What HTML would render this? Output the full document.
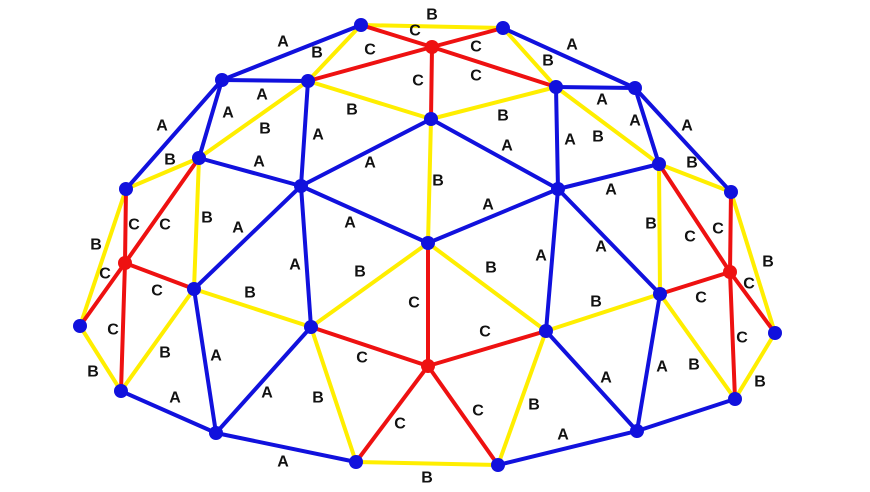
<!DOCTYPE html>
<html><head><style>html,body{margin:0;padding:0;background:#fff}svg{display:block}
text{font-family:"Liberation Sans",sans-serif;font-weight:bold;font-size:16px;fill:#111;text-anchor:middle;dominant-baseline:central}</style></head><body>
<svg width="870" height="492" viewBox="0 0 870 492" xmlns="http://www.w3.org/2000/svg">
<g stroke-width="4" stroke-linecap="round">
<g stroke="#ffee00">
<line x1="361" y1="25" x2="503" y2="28"/><line x1="361" y1="25" x2="308" y2="81"/><line x1="503" y1="28" x2="556" y2="87"/>
<line x1="308" y1="81" x2="431" y2="119"/><line x1="431" y1="119" x2="556" y2="87"/><line x1="308" y1="81" x2="199" y2="158"/>
<line x1="556" y1="87" x2="659" y2="164"/><line x1="431" y1="119" x2="428" y2="243"/><line x1="199" y1="158" x2="126" y2="189"/>
<line x1="199" y1="158" x2="194" y2="289"/><line x1="126" y1="189" x2="80" y2="326"/><line x1="659" y1="164" x2="731" y2="192"/>
<line x1="659" y1="164" x2="660" y2="294"/><line x1="731" y1="192" x2="775" y2="333"/><line x1="428" y1="243" x2="311" y2="327"/>
<line x1="428" y1="243" x2="546" y2="331"/><line x1="194" y1="289" x2="311" y2="327"/><line x1="194" y1="289" x2="121" y2="391"/>
<line x1="80" y1="326" x2="121" y2="391"/><line x1="311" y1="327" x2="356" y2="462"/><line x1="546" y1="331" x2="498" y2="465"/>
<line x1="546" y1="331" x2="660" y2="294"/><line x1="660" y1="294" x2="735" y2="399"/><line x1="775" y1="333" x2="735" y2="399"/>
<line x1="356" y1="462" x2="498" y2="465"/>
</g>
<g stroke="#ee1111">
<line x1="361" y1="25" x2="432" y2="47"/><line x1="503" y1="28" x2="432" y2="47"/><line x1="308" y1="81" x2="432" y2="47"/>
<line x1="556" y1="87" x2="432" y2="47"/><line x1="431" y1="119" x2="432" y2="47"/>
<line x1="126" y1="189" x2="125" y2="263"/><line x1="199" y1="158" x2="125" y2="263"/><line x1="194" y1="289" x2="125" y2="263"/>
<line x1="80" y1="326" x2="125" y2="263"/><line x1="121" y1="391" x2="125" y2="263"/>
<line x1="659" y1="164" x2="730" y2="272"/><line x1="731" y1="192" x2="730" y2="272"/><line x1="660" y1="294" x2="730" y2="272"/>
<line x1="775" y1="333" x2="730" y2="272"/><line x1="735" y1="399" x2="730" y2="272"/>
<line x1="311" y1="327" x2="428" y2="366"/><line x1="546" y1="331" x2="428" y2="366"/><line x1="428" y1="243" x2="428" y2="366"/>
<line x1="356" y1="462" x2="428" y2="366"/><line x1="498" y1="465" x2="428" y2="366"/>
</g>
<g stroke="#1111dd">
<line x1="361" y1="25" x2="222" y2="80"/><line x1="503" y1="28" x2="635" y2="88"/><line x1="222" y1="80" x2="308" y2="81"/>
<line x1="556" y1="87" x2="635" y2="88"/><line x1="222" y1="80" x2="199" y2="158"/><line x1="308" y1="81" x2="301" y2="186"/>
<line x1="431" y1="119" x2="301" y2="186"/><line x1="431" y1="119" x2="558" y2="189"/><line x1="556" y1="87" x2="558" y2="189"/>
<line x1="635" y1="88" x2="659" y2="164"/><line x1="199" y1="158" x2="301" y2="186"/><line x1="659" y1="164" x2="558" y2="189"/>
<line x1="222" y1="80" x2="126" y2="189"/><line x1="635" y1="88" x2="731" y2="192"/><line x1="301" y1="186" x2="428" y2="243"/>
<line x1="558" y1="189" x2="428" y2="243"/><line x1="301" y1="186" x2="194" y2="289"/><line x1="301" y1="186" x2="311" y2="327"/>
<line x1="558" y1="189" x2="546" y2="331"/><line x1="558" y1="189" x2="660" y2="294"/><line x1="194" y1="289" x2="216" y2="433"/>
<line x1="311" y1="327" x2="216" y2="433"/><line x1="546" y1="331" x2="637" y2="431"/><line x1="660" y1="294" x2="637" y2="431"/>
<line x1="121" y1="391" x2="216" y2="433"/><line x1="216" y1="433" x2="356" y2="462"/><line x1="498" y1="465" x2="637" y2="431"/>
<line x1="637" y1="431" x2="735" y2="399"/>
</g>
</g>
<g fill="#1111dd">
<circle cx="361" cy="25" r="7"/><circle cx="503" cy="28" r="7"/><circle cx="222" cy="80" r="7"/><circle cx="308" cy="81" r="7"/>
<circle cx="556" cy="87" r="7"/><circle cx="635" cy="88" r="7"/><circle cx="431" cy="119" r="7"/><circle cx="199" cy="158" r="7"/>
<circle cx="659" cy="164" r="7"/><circle cx="301" cy="186" r="7"/><circle cx="558" cy="189" r="7"/><circle cx="126" cy="189" r="7"/>
<circle cx="731" cy="192" r="7"/><circle cx="428" cy="243" r="7"/><circle cx="194" cy="289" r="7"/><circle cx="660" cy="294" r="7"/>
<circle cx="80" cy="326" r="7"/><circle cx="311" cy="327" r="7"/><circle cx="546" cy="331" r="7"/><circle cx="775" cy="333" r="7"/>
<circle cx="121" cy="391" r="7"/><circle cx="735" cy="399" r="7"/><circle cx="216" cy="433" r="7"/><circle cx="637" cy="431" r="7"/>
<circle cx="356" cy="462" r="7"/><circle cx="498" cy="465" r="7"/>
</g>
<g fill="#ee1111"><circle cx="432" cy="47" r="7"/><circle cx="125" cy="263" r="7"/><circle cx="730" cy="272" r="7"/><circle cx="428" cy="366" r="7"/></g>
<g>
<text x="432" y="15">B</text><text x="283" y="42">A</text><text x="317" y="53">B</text><text x="370" y="50">C</text><text x="415" y="31">C</text>
<text x="476" y="47">C</text><text x="572" y="45">A</text><text x="548" y="61">B</text><text x="476" y="76">C</text><text x="418" y="81">C</text>
<text x="262" y="95">A</text><text x="228" y="113">A</text><text x="265" y="129">B</text><text x="352" y="110">B</text><text x="318" y="135">A</text>
<text x="503" y="116">B</text><text x="507" y="146">A</text><text x="570" y="140">A</text><text x="598" y="137">B</text><text x="602" y="100">A</text>
<text x="635" y="121">A</text><text x="162" y="126">A</text><text x="687" y="126">A</text><text x="170" y="160">B</text><text x="259" y="162">A</text>
<text x="370" y="163">A</text><text x="438" y="181">B</text><text x="488" y="205">A</text><text x="611" y="190">A</text><text x="692" y="163">B</text>
<text x="134" y="225">C</text><text x="165" y="225">C</text><text x="207" y="218">B</text><text x="238" y="228">A</text><text x="96" y="245">B</text>
<text x="105" y="274">C</text><text x="157" y="291">C</text><text x="295" y="265">A</text><text x="360" y="272">B</text><text x="350" y="223">A</text>
<text x="250" y="293">B</text><text x="414" y="303">C</text><text x="491" y="268">B</text><text x="541" y="256">A</text><text x="651" y="224">B</text>
<text x="690" y="237">C</text><text x="718" y="229">C</text><text x="768" y="262">B</text><text x="601" y="247">A</text><text x="749" y="284">C</text>
<text x="596" y="302">B</text><text x="701" y="298">C</text><text x="113" y="330">C</text><text x="485" y="332">C</text><text x="362" y="358">C</text>
<text x="165" y="353">B</text><text x="216" y="356">A</text><text x="93" y="372">B</text><text x="175" y="398">A</text><text x="267" y="393">A</text>
<text x="318" y="398">B</text><text x="400" y="424">C</text><text x="478" y="411">C</text><text x="534" y="405">B</text><text x="606" y="378">A</text>
<text x="662" y="367">A</text><text x="694" y="365">B</text><text x="742" y="338">C</text><text x="760" y="382">B</text><text x="563" y="435">A</text>
<text x="283" y="462">A</text><text x="427" y="478">B</text>
</g>
</svg>
</body></html>
